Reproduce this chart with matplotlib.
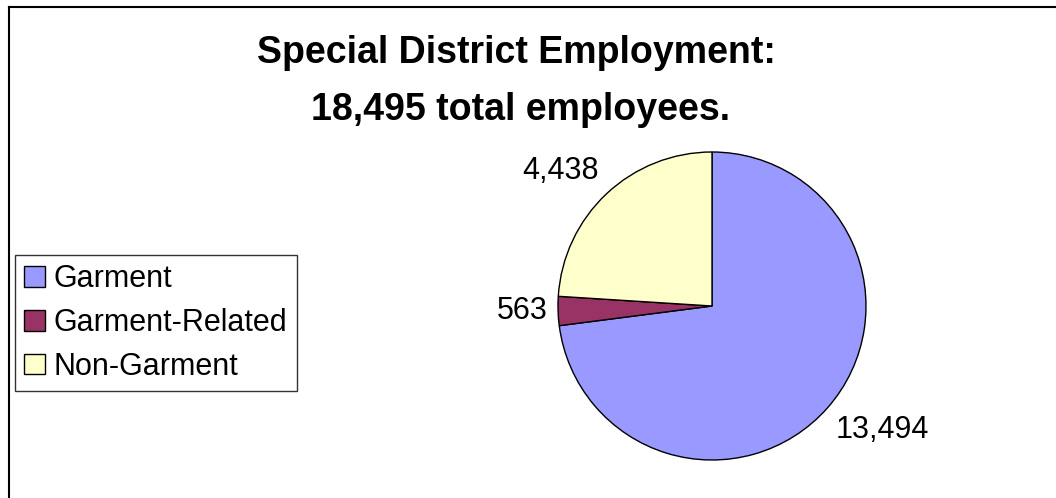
import matplotlib
matplotlib.use("Agg")
import matplotlib.pyplot as plt
from matplotlib.patches import Patch
from matplotlib.lines import Line2D
import numpy as np

categories = ["Garment", "Garment-Related", "Non-Garment"]
values = [13494, 563, 4438]
value_labels = ["13,494", "563", "4,438"]
colors = ["#9999FF", "#993366", "#FFFFCC"]
title_lines = ["Special District Employment:", "18,495 total employees."]

W, H = 1056, 498
fig = plt.figure(figsize=(W / 100, H / 100), dpi=100)
fig.patch.set_facecolor("white")
plt.rcParams["font.family"] = ["Liberation Sans", "DejaVu Sans"]

# outer frame (left and top edges visible)
fig.add_artist(Line2D([8.5 / W, 8.5 / W], [0, 1 - 7.5 / H], color="black", lw=1.5,
                      transform=fig.transFigure))
fig.add_artist(Line2D([8.5 / W, 1], [1 - 7.5 / H, 1 - 7.5 / H], color="black", lw=1.5,
                      transform=fig.transFigure))

# title
fig.text(516 / W, 1 - 63 / H, title_lines[0], ha="center", va="baseline",
         fontsize=27, fontweight="bold")
fig.text(521 / W, 1 - 120 / H, title_lines[1], ha="center", va="baseline",
         fontsize=27, fontweight="bold")

# pie
cx, cy, r = 712, 306, 154
ax = fig.add_axes([(cx - r) / W, (H - cy - r) / H, 2 * r / W, 2 * r / H])
wedges, texts = ax.pie(values, colors=colors, startangle=90, counterclock=False,
                       labels=value_labels, labeldistance=1.07,
                       wedgeprops=dict(edgecolor="black", linewidth=1.0),
                       textprops=dict(fontsize=22))
ax.set_xlim(-1, 1)
ax.set_ylim(-1, 1)
ax.set_aspect("auto")
for w, t in zip(wedges, texts):
    ang = np.deg2rad((w.theta1 + w.theta2) / 2)
    s = np.sin(ang)
    t.set_ha("left" if np.cos(ang) > 0 else "right")
    if abs(s) < 0.2:
        t.set_va("center")
    elif s > 0:
        t.set_va("bottom")
    else:
        t.set_va("top")

# legend
handles = [Patch(facecolor=c, edgecolor="black", linewidth=1.0) for c in colors]
leg = fig.legend(handles, categories, loc="upper left",
                 bbox_to_anchor=(15 / W, 1 - 255 / H), bbox_transform=fig.transFigure,
                 fontsize=22, frameon=True, fancybox=False, edgecolor="black",
                 handlelength=0.67, handleheight=0.67, handletextpad=0.3,
                 labelspacing=0.45, borderpad=0.3, borderaxespad=0)
leg.get_frame().set_linewidth(1.0)

fig.savefig("out.png", dpi=100, facecolor="white")
